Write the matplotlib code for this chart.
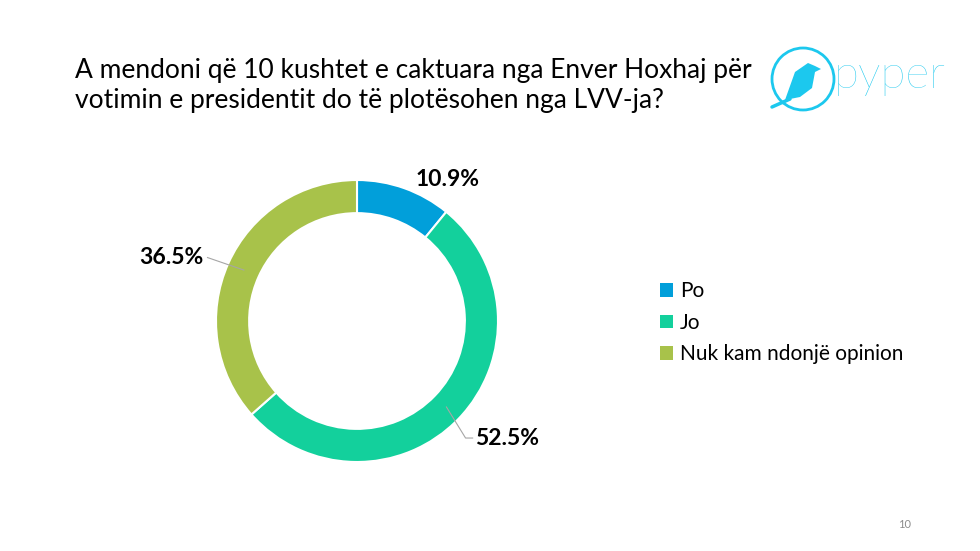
import numpy as np
import matplotlib
matplotlib.use("Agg")
import matplotlib.pyplot as plt
from matplotlib.patches import Patch, Circle

plt.rcParams['font.family'] = ['Lato', 'DejaVu Sans']

title = "A mendoni që 10 kushtet e caktuara nga Enver Hoxhaj për\nvotimin e presidentit do të plotësohen nga LVV-ja?"
categories = ["Po", "Jo", "Nuk kam ndonjë opinion"]
values = [10.9, 52.5, 36.5]
colors = ["#019FDA", "#13D09C", "#A8C24A"]

W, H = 980, 551
fig = plt.figure(figsize=(W / 100, H / 100), dpi=100)

# donut
cx, cy, r = 357, 321, 141
ax = fig.add_axes([(cx - r) / W, (H - cy - r) / H, 2 * r / W, 2 * r / H])
wedges, _ = ax.pie(values, colors=colors, startangle=90, counterclock=False,
                   radius=1, wedgeprops=dict(width=0.235, edgecolor="white", linewidth=1.5))
ax.set_xlim(-1, 1)
ax.set_ylim(-1, 1)
ax.set_aspect("equal")
ax.axis("off")

# label layout: (elbow, end of leader) or None, text anchor
label_layout = [
    (None, (0.64, 1.0), "center"),
    (((0.77, -0.83), (0.82, -0.83)), (0.84, -0.83), "left"),
    (((-1.06, 0.45), (-1.06, 0.45)), (-1.09, 0.45), "right"),
]
for w, v, (leader, (tx, ty), ha) in zip(wedges, values, label_layout):
    mid = np.deg2rad((w.theta1 + w.theta2) / 2)
    px, py = 0.88 * np.cos(mid), 0.88 * np.sin(mid)
    if leader:
        xs = [px, leader[0][0], leader[1][0]]
        ys = [py, leader[0][1], leader[1][1]]
        ax.plot(xs, ys, color="#A6A6A6", lw=0.8, clip_on=False)
    ax.text(tx, ty, f"{v}%", ha=ha, va="center", fontsize=16.5,
            fontweight="bold", clip_on=False)

# title
fig.text(75 / W, 1 - 58 / H, title, ha="left", va="top", fontsize=19,
         color="#000000", linespacing=1.25)

# legend
handles = [Patch(facecolor=c, edgecolor="none") for c in colors]
fig.legend(handles, categories, loc="upper left", bbox_to_anchor=(652 / W, 1 - 273 / H),
           frameon=False, fontsize=15, handlelength=0.6, handleheight=0.6,
           handletextpad=0.35, labelspacing=0.55, borderaxespad=0)

# logo
cyan = "#1CC8EE"
lax = fig.add_axes([0, 0, 1, 1], facecolor="none")
lax.set_xlim(0, W)
lax.set_ylim(H, 0)
lax.axis("off")
lax.add_patch(Circle((803, 79), 31, fill=False, edgecolor=cyan, lw=2))
bird = np.array([[785, 100], [795, 72], [808, 63], [815, 66], [821, 69], [815, 72],
                 [812, 88], [800, 97], [785, 100]])
lax.fill(bird[:, 0], bird[:, 1], color=cyan, lw=0)
lax.plot([772, 790], [107, 99], color=cyan, lw=2.5, solid_capstyle="round")
lax.text(834, 76, "pyper", ha="left", va="center", fontsize=33, color=cyan,
         fontweight="light")

fig.text(898 / W, 1 - 525 / H, "10", ha="left", va="center", fontsize=8, color="#8C8C8C")

fig.savefig("out.png", dpi=100)
